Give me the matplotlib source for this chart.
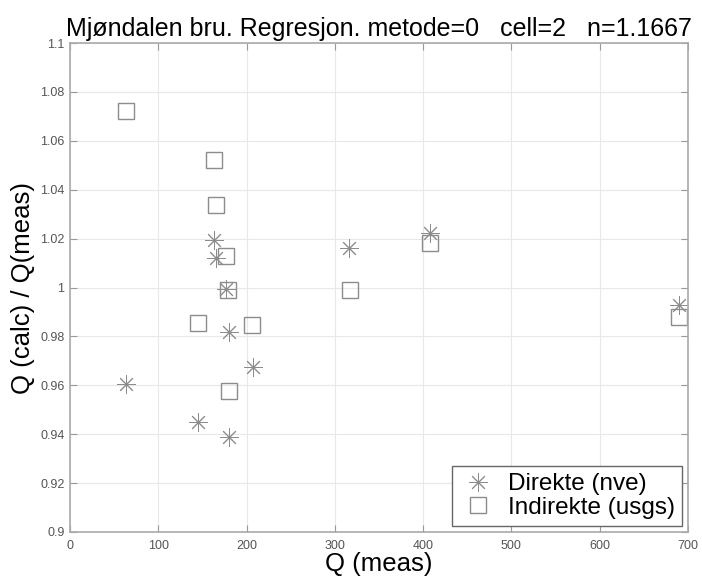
import matplotlib.pyplot as plt

plt.rcParams['font.family'] = ['Liberation Sans', 'DejaVu Sans']

# Direkte (nve)
q_direkte = [63, 163, 165, 177, 180, 207, 145, 180, 316, 408, 690]
r_direkte = [0.9605, 1.0194, 1.0122, 0.9994, 0.9817, 0.9674, 0.9451, 0.9390, 1.0160, 1.0222, 0.9928]

# Indirekte (usgs)
q_indirekte = [63, 163, 165, 177, 179, 145, 206, 180, 317, 408, 690]
r_indirekte = [1.0722, 1.0521, 1.0337, 1.0129, 0.9990, 0.9856, 0.9847, 0.9577, 0.9990, 1.0181, 0.9880]

x_ticks = [0, 100, 200, 300, 400, 500, 600, 700]
y_ticks = [0.9, 0.92, 0.94, 0.96, 0.98, 1.0, 1.02, 1.04, 1.06, 1.08, 1.1]
y_labels = ['0.9', '0.92', '0.94', '0.96', '0.98', '1', '1.02', '1.04', '1.06', '1.08', '1.1']

fig = plt.figure(figsize=(7.02, 5.79), dpi=100)
ax = fig.add_axes([0.0997, 0.0812, 0.8803, 0.8445])

ax.plot(q_direkte, r_direkte, linestyle='none', marker=(8, 2, 0), markersize=13,
        markeredgewidth=0.7, color='#8c8c8c', label='Direkte (nve)')
ax.plot(q_indirekte, r_indirekte, linestyle='none', marker='s', markersize=12,
        markeredgewidth=1.0, markerfacecolor='none', markeredgecolor='#8c8c8c',
        label='Indirekte (usgs)')

ax.set_xlim(0, 700)
ax.set_ylim(0.9, 1.1)
ax.set_xticks(x_ticks)
ax.set_yticks(y_ticks)
ax.set_yticklabels(y_labels)
ax.grid(True, color='#e8e8e8', linewidth=0.8)
ax.tick_params(direction='in', top=True, right=True, length=5, color='#999999',
               labelsize=9, labelcolor='#555555')
ax.tick_params(axis='x', pad=6)
ax.tick_params(axis='y', pad=4)
for s in ax.spines.values():
    s.set_color('#aaaaaa')
    s.set_linewidth(1.2)

ax.set_title('Mjøndalen bru. Regresjon. metode=0   cell=2   n=1.1667', fontsize=18, pad=5)
ax.set_xlabel('Q (meas)', fontsize=18.5, labelpad=0)
ax.set_ylabel('Q (calc) / Q(meas)', fontsize=18.5, labelpad=4)

leg = ax.legend(loc='lower right', fontsize=17.5, fancybox=False, framealpha=1,
                edgecolor='#666666', borderaxespad=0.25, handletextpad=0.4,
                labelspacing=0.05, handlelength=1.6, borderpad=0.3)
leg.get_frame().set_linewidth(1.0)

fig.savefig('out.png', dpi=100)
